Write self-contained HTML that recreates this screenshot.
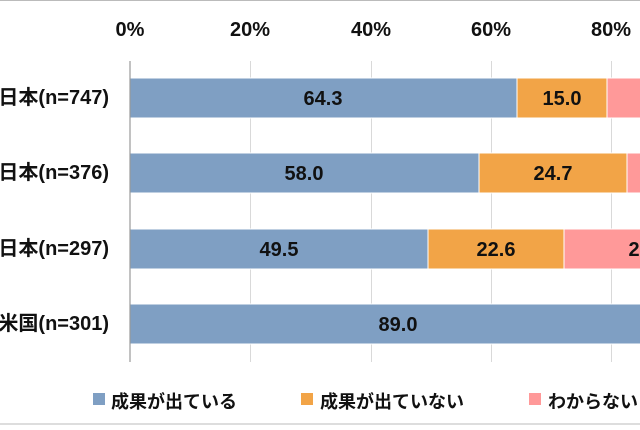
<!DOCTYPE html>
<html><head><meta charset="utf-8"><style>
body{margin:0;width:640px;height:425px;overflow:hidden;background:#fff;font-family:"Liberation Sans","Noto Sans CJK JP",sans-serif;font-weight:bold;}
svg text{font-family:"Liberation Sans","Noto Sans CJK JP",sans-serif;font-weight:bold;}
</style></head><body>
<svg width="640" height="425" xmlns="http://www.w3.org/2000/svg">
<rect x="0" y="0" width="640" height="425" fill="#fff"/>
<line x1="0" y1="0.5" x2="640" y2="0.5" stroke="#bbb"/>
<line x1="0" y1="424" x2="640" y2="424" stroke="#bbb"/>
<g stroke="#d9d9d9" stroke-width="1">
<line x1="250.5" y1="61" x2="250.5" y2="362"/>
<line x1="371.5" y1="61" x2="371.5" y2="362"/>
<line x1="491.5" y1="61" x2="491.5" y2="362"/>
<line x1="611.5" y1="61" x2="611.5" y2="362"/>
</g>
<g font-size="20" fill="#111" text-anchor="middle">
<text x="130" y="36">0%</text><text x="250" y="36">20%</text><text x="371" y="36">40%</text><text x="491" y="36">60%</text><text x="611" y="36">80%</text>
</g>
<g stroke="#fff" stroke-width="1">
<rect x="130" y="78" width="387" height="40" fill="#7f9fc3"/>
<rect x="517" y="78" width="90" height="40" fill="#f2a447"/>
<rect x="607" y="78" width="40" height="40" fill="#ff9999"/>
<rect x="130" y="153" width="349" height="40" fill="#7f9fc3"/>
<rect x="479" y="153" width="148" height="40" fill="#f2a447"/>
<rect x="627" y="153" width="20" height="40" fill="#ff9999"/>
<rect x="130" y="229" width="298" height="40" fill="#7f9fc3"/>
<rect x="428" y="229" width="136" height="40" fill="#f2a447"/>
<rect x="564" y="229" width="90" height="40" fill="#ff9999"/>
<rect x="130" y="304" width="520" height="40" fill="#7f9fc3"/>
</g>
<line x1="130" y1="61" x2="130" y2="362" stroke="#999" stroke-width="1.2"/>
<g font-size="20" fill="#111" text-anchor="middle">
<text x="323" y="105">64.3</text><text x="562" y="105">15.0</text>
<text x="304" y="180">58.0</text><text x="553" y="180">24.7</text>
<text x="279" y="256">49.5</text><text x="496" y="256">22.6</text><text x="648" y="256">27.9</text>
<text x="398" y="331">89.0</text>
</g>
<g font-size="20" fill="#111" text-anchor="end">
<text x="109" y="104">日本(n=747)</text>
<text x="109" y="179">日本(n=376)</text>
<text x="109" y="255">日本(n=297)</text>
<text x="109" y="330">米国(n=301)</text>
</g>
<rect x="93" y="393" width="12" height="12" fill="#7f9fc3"/>
<text x="111" y="408" font-size="18" fill="#111">成果が出ている</text>
<rect x="301" y="393" width="12" height="12" fill="#f2a447"/>
<text x="320" y="408" font-size="18" fill="#111">成果が出ていない</text>
<rect x="529" y="393" width="12" height="12" fill="#ff9999"/>
<text x="548" y="408" font-size="18" fill="#111">わからない</text>
</svg>
</body></html>
